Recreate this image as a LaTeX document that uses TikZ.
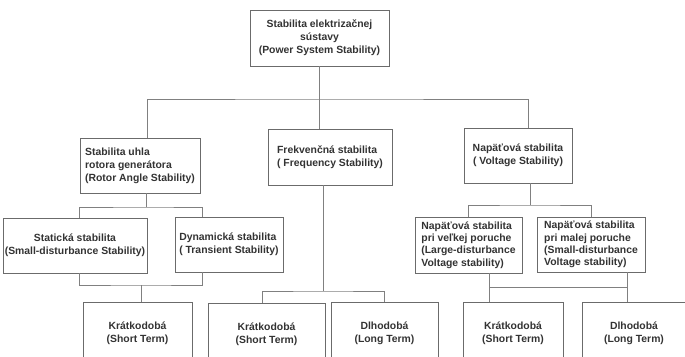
\documentclass[tikz,border=0pt]{standalone}
\usepackage{fontspec}
\setmainfont{Liberation Sans}
\usetikzlibrary{calc}

\begin{document}
\begin{tikzpicture}[x=1pt, y=-1pt,
		box/.style={draw=black!58, line width=0.8pt, inner sep=0pt, text=black!80,
			font=\fontsize{10.4}{13}\selectfont\bfseries},
		conn/.style={draw=black!50, line width=0.8pt}]
		%%%%% START %%%%%
		
		\useasboundingbox (0, 0) rectangle (685, 356);
		\clip (0, 0) rectangle (685, 356);
		\fill[white] (0, 0) rectangle (685, 356);
		
		\node[box, minimum width=139, minimum height=56, align=center] (root) at (319.5, 38) {Stabilita elektrizačnej\\sústavy\\(Power System Stability)};
		
		\node[box, minimum width=120, minimum height=55, align=left] (rotor) at (140, 165.5) {Stabilita uhla\\rotora generátora\\(Rotor Angle Stability)};
		\node[box, minimum width=124, minimum height=56, align=left] (freq) at (330, 157) {Frekvenčná stabilita\\( Frequency Stability)};
		\node[box, minimum width=108, minimum height=55, align=center] (volt) at (518, 155.5) {Napäťová stabilita\\( Voltage Stability)};
		
		\node[box, minimum width=144, minimum height=55, align=center] (static) at (75, 245.5) {Statická stabilita\\(Small-disturbance Stability)};
		\node[box, minimum width=108, minimum height=55, align=left] (dyn) at (229, 244.5) {Dynamická stabilita\\( Transient Stability)};
		\node[box, minimum width=107, minimum height=56, align=left, font=\fontsize{10.4}{12.4}\selectfont\bfseries] (large) at (468.5, 245) {Napäťová stabilita\\pri veľkej poruche\\(Large-disturbance\\Voltage stability)};
		\node[box, minimum width=108, minimum height=55, align=left, font=\fontsize{10.4}{12.4}\selectfont\bfseries] (small) at (591, 244.5) {Napäťová stabilita\\pri malej poruche\\(Small-disturbance\\Voltage stability)};
		
		\node[box, minimum width=109, minimum height=62, align=center] (kr1) at (137.5, 333) {Krátkodobá\\(Short Term)};
		\node[box, minimum width=117, minimum height=62, align=center] (kr2) at (266.5, 334) {Krátkodobá\\(Short Term)};
		\node[box, minimum width=107, minimum height=62, align=center] (dl2) at (384.5, 333) {Dlhodobá\\(Long Term)};
		\node[box, minimum width=100, minimum height=62, align=center] (kr3) at (513, 333) {Krátkodobá\\(Short Term)};
		\node[box, minimum width=104, minimum height=62, align=center] (dl3) at (634, 333) {Dlhodobá\\(Long Term)};
		
		% top level
		\coordinate (b0) at (321, 99);
		\draw[conn] (root.south) -- (root.south |- freq.north);
		\draw[conn] ([xshift=7]rotor.north) |- (b0) -| ([xshift=10]volt.north);
		
		% rotor angle
		\coordinate (b1) at (146, 207);
		\coordinate (b2) at (141, 285);
		\draw[conn] ([xshift=6]rotor.south) -- (b1);
		\draw[conn] ([xshift=4]static.north) |- (b1) -| ([xshift=-27]dyn.north);
		\draw[conn] ([xshift=4]static.south) |- (b2) -| ([xshift=-27]dyn.south);
		\draw[conn] (b2) -- ([xshift=3.5]kr1.north);
		
		% frequency
		\coordinate (b3) at (323, 291);
		\draw[conn] ([xshift=-7]freq.south) -- (b3);
		\draw[conn] ([xshift=-4.5]kr2.north) |- (b3) -| (dl2.north);
		
		% voltage
		\coordinate (b4) at (530, 205);
		\coordinate (b5) at (489, 287);
		\coordinate (b6) at (627, 287);
		\draw[conn] ([xshift=12]volt.south) -- (b4);
		\draw[conn] (large.north) |- (b4) -| (small.north);
		\draw[conn] ([xshift=20.5]large.south) -- ([xshift=-24]kr3.north);
		\draw[conn] ([xshift=36]small.south) -- ([xshift=-7]dl3.north);
		\draw[conn] (b5) -- (b6);
		
		%%%%% END %%%%%
	\end{tikzpicture}
\end{document}
